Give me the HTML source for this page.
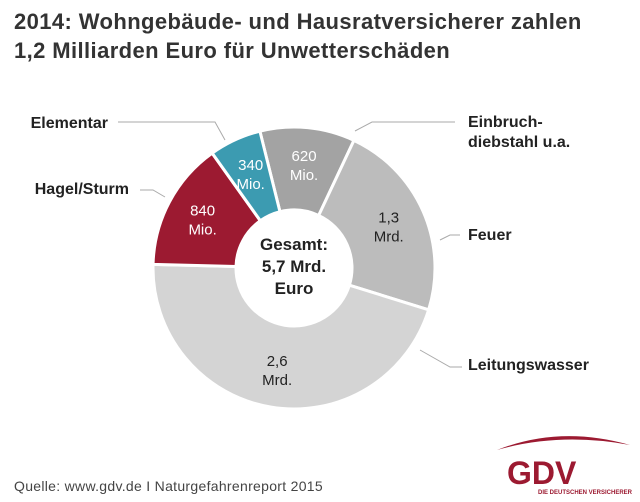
<!DOCTYPE html>
<html><head><meta charset="utf-8"><style>
body{margin:0;background:#fff;}
#c{width:640px;height:502px;position:relative;overflow:hidden;font-family:"Liberation Sans",sans-serif;}
.t{position:absolute;left:14px;top:7px;font-size:22px;font-weight:bold;color:#333;line-height:29px;letter-spacing:0.4px;}
.src{position:absolute;left:14px;top:478px;font-size:14px;color:#444;letter-spacing:0.3px;}
</style></head><body>
<div id="c">
<div class="t">2014: Wohngebäude- und Hausratversicherer zahlen<br>1,2 Milliarden Euro für Unwetterschäden</div>
<svg id="s" width="640" height="502" style="position:absolute;left:0;top:0"></svg>
<div class="src">Quelle: www.gdv.de I Naturgefahrenreport 2015</div>
</div>
<script>
const categories=["Einbruchdiebstahl u.a.","Feuer","Leitungswasser","Hagel/Sturm","Elementar"];
const values=[620,1300,2600,840,340];
const valueLabels=[["620","Mio."],["1,3","Mrd."],["2,6","Mrd."],["840","Mio."],["340","Mio."]];
const colors=["#a3a3a3","#bcbcbc","#d4d4d4","#9c1a31","#3c9bb1"];
const textColors=["#fff","#222","#222","#fff","#fff"];
const s=document.getElementById('s');const NS='http://www.w3.org/2000/svg';
const cx=294,cy=268,R=141,r=58,start=-14;
function pt(a,rad){const t=(a-90)*Math.PI/180;return [cx+rad*Math.cos(t),cy+rad*Math.sin(t)];}
const total=values.reduce((a,b)=>a+b,0);
let a0=start;
values.forEach((v,i)=>{
 const a1=a0+v/total*360;
 const p1=pt(a0,R),p2=pt(a1,R),p3=pt(a1,r),p4=pt(a0,r);const lg=(a1-a0)>180?1:0;
 const p=document.createElementNS(NS,'path');
 p.setAttribute('d',`M${p1}A${R},${R} 0 ${lg} 1 ${p2}L${p3}A${r},${r} 0 ${lg} 0 ${p4}Z`);
 p.setAttribute('fill',colors[i]);p.setAttribute('stroke','#fff');p.setAttribute('stroke-width','3');
 
 
 s.appendChild(p);
 const m=pt((a0+a1)/2,(R+r)/2+4);
 valueLabels[i].forEach((l,j)=>{const t=document.createElementNS(NS,'text');
  t.setAttribute('x',m[0]);t.setAttribute('y',m[1]-4+j*19);t.setAttribute('text-anchor','middle');
  t.setAttribute('font-size','15');t.setAttribute('fill',textColors[i]);t.textContent=l;
  
  
  s.appendChild(t);});
 a0=a1;
});
const ctr=["Gesamt:","5,7 Mrd.","Euro"];
ctr.forEach((l,j)=>{const t=document.createElementNS(NS,'text');t.setAttribute('x',cx);t.setAttribute('y',250+j*22);
 t.setAttribute('text-anchor','middle');t.setAttribute('font-size','17');t.setAttribute('font-weight','bold');t.setAttribute('fill','#222');t.textContent=l;
 
 
 s.appendChild(t);});
const lines=[[[355,131],[372,122],[455,122]],[[440,240],[450,235],[460,235]],[[420,350],[450,367],[462,367]],[[165,197],[153,190],[140,190]],[[225,140],[215,122],[118,122]]];
const names=[["Einbruch-","diebstahl u.a."],["Feuer"],["Leitungswasser"],["Hagel/Sturm"],["Elementar"]];
const npos=[[468,127,'start'],[468,240,'start'],[468,370,'start'],[129,194,'end'],[108,128,'end']];
lines.forEach((L,i)=>{const pl=document.createElementNS(NS,'polyline');pl.setAttribute('points',L.map(p=>p.join(',')).join(' '));
 pl.setAttribute('fill','none');pl.setAttribute('stroke','#aaa');pl.setAttribute('stroke-width','1');
 
 
 s.appendChild(pl);
 names[i].forEach((n,j)=>{const t=document.createElementNS(NS,'text');t.setAttribute('x',npos[i][0]);t.setAttribute('y',npos[i][1]+j*20);
  t.setAttribute('text-anchor',npos[i][2]);t.setAttribute('font-size','16');t.setAttribute('font-weight','bold');t.setAttribute('fill','#222');t.textContent=n;
  
  
  s.appendChild(t);});
});
const g=document.createElementNS(NS,'g');


g.innerHTML='<path d="M497,450 Q560,425 630,445 Q560,432 497,450Z" fill="#9c1a31"/><text x="507" y="484" font-size="32" font-weight="bold" fill="#9c1a31" font-family="Liberation Sans">GDV</text><text x="538" y="494" font-size="6" font-weight="bold" fill="#9c1a31">DIE DEUTSCHEN VERSICHERER</text>';
s.appendChild(g);
</script>
</body></html>
